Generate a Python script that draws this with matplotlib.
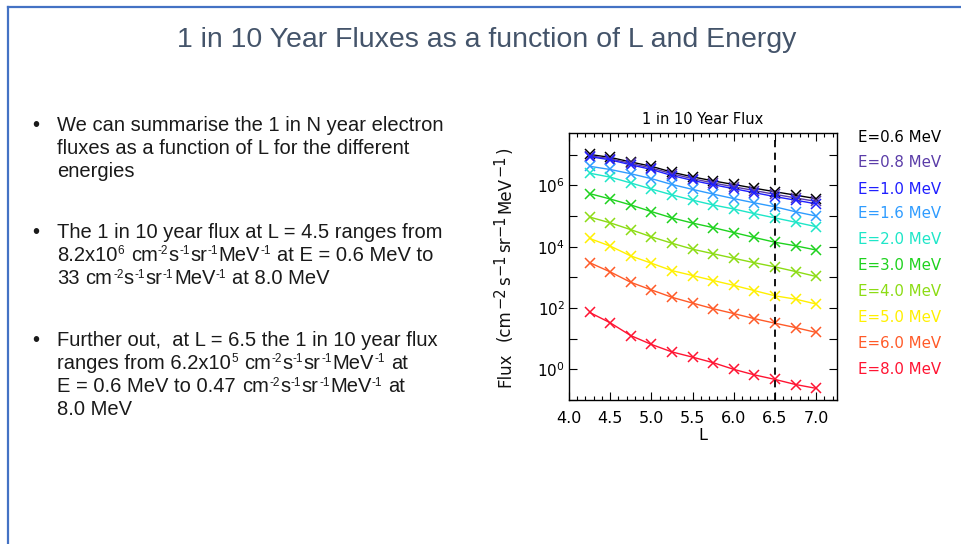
import numpy as np
import matplotlib.pyplot as plt
from matplotlib.lines import Line2D
from matplotlib.ticker import FixedLocator, FuncFormatter

# ---- data ----
L_vals = [4.25, 4.5, 4.75, 5.0, 5.25, 5.5, 5.75, 6.0, 6.25, 6.5, 6.75, 7.0]

flux_e06 = [1.02e7, 8.2e6, 5.8e6, 4.2e6, 2.7e6, 1.9e6, 1.4e6, 1.07e6, 8.1e5, 6.2e5, 4.8e5, 3.7e5]
flux_e08 = [9.3e6, 7.4e6, 5.2e6, 3.7e6, 2.4e6, 1.65e6, 1.2e6, 9.0e5, 6.8e5, 5.1e5, 3.9e5, 3.0e5]
flux_e10 = [8.7e6, 6.8e6, 4.7e6, 3.3e6, 2.1e6, 1.45e6, 1.05e6, 7.8e5, 5.8e5, 4.3e5, 3.3e5, 2.5e5]
flux_e16 = [4.2e6, 3.3e6, 2.4e6, 1.66e6, 1.07e6, 7.4e5, 5.2e5, 3.7e5, 2.7e5, 2.0e5, 1.38e5, 1.0e5]
flux_e20 = [2.5e6, 1.86e6, 1.2e6, 7.6e5, 4.9e5, 3.3e5, 2.3e5, 1.7e5, 1.2e5, 8.7e4, 6.3e4, 4.5e4]
flux_e30 = [5.4e5, 3.6e5, 2.3e5, 1.4e5, 8.7e4, 5.9e4, 4.2e4, 2.9e4, 2.0e4, 1.4e4, 1.07e4, 7.8e3]
flux_e40 = [9.3e4, 6.0e4, 3.6e4, 2.1e4, 1.3e4, 8.3e3, 5.9e3, 4.2e3, 3.0e3, 2.2e3, 1.55e3, 1.07e3]
flux_e50 = [1.86e4, 1.05e4, 5.0e3, 2.9e3, 1.66e3, 1.15e3, 790, 550, 370, 250, 195, 135]
flux_e60 = [3020, 1510, 690, 390, 224, 145, 95, 66, 45, 32, 23, 16]
flux_e80 = [72, 33, 12.6, 6.5, 3.7, 2.5, 1.65, 1.0, 0.66, 0.47, 0.32, 0.24]

energies = ['0.6', '0.8', '1.0', '1.6', '2.0', '3.0', '4.0', '5.0', '6.0', '8.0']
series = [flux_e06, flux_e08, flux_e10, flux_e16, flux_e20,
          flux_e30, flux_e40, flux_e50, flux_e60, flux_e80]
colors = ['#000000', '#5a3ca8', '#1f1fff', '#2f9cff', '#1ee6c8',
          '#1ed21e', '#8cdc14', '#fff000', '#ff5a28', '#ff1432']

W, H = 961, 544
fig = plt.figure(figsize=(W / 100, H / 100), dpi=100)
renderer = fig.canvas.get_renderer()


def rich(x0, y0, segs, size, sup_size, rise, rot=0, **kw):
    """Draw a run of text pieces; '^' marks a superscript piece, ' ' a gap.
    x0, y0 are pixel positions measured from the top-left corner."""
    x, y = x0, H - y0
    sp = fig.text(0, 0, 'a a', fontsize=size, **kw)
    sp2 = fig.text(0, 0, 'aa', fontsize=size, **kw)
    gap = sp.get_window_extent(renderer).width - sp2.get_window_extent(renderer).width
    sp.remove()
    sp2.remove()
    for s in segs:
        if s == ' ':
            if rot == 0:
                x += gap
            else:
                y += gap
            continue
        sup = s.startswith('^')
        txt = s[1:] if sup else s
        fs = sup_size if sup else size
        if rot == 0:
            px, py = x, y + (rise if sup else 0)
        else:
            px, py = x - (rise if sup else 0), y
        t = fig.text(px / W, py / H, txt, fontsize=fs, rotation=rot, ha='left',
                     va='baseline', rotation_mode='anchor', **kw)
        bb = t.get_window_extent(renderer)
        if rot == 0:
            x += bb.width + 0.5
        else:
            y += bb.height + 1.2


# ---- slide frame ----
frame = '#4472C4'
fig.add_artist(Line2D([8 / W, 1.0], [1 - 7 / H, 1 - 7 / H], color=frame, lw=1.6,
                      transform=fig.transFigure))
fig.add_artist(Line2D([8 / W, 8 / W], [1 - 7 / H, 0.0], color=frame, lw=1.6,
                      transform=fig.transFigure))

# ---- slide title ----
fig.text(487 / W, 1 - 47 / H, '1 in 10 Year Fluxes as a function of L and Energy',
         ha='center', va='baseline', fontsize=20.5, color='#44546A', family='Liberation Sans')

# ---- bullet text ----
slide_kw = dict(color='#1a1a1a', family='Liberation Sans')
unit = ['cm', '^-2', 's', '^-1', 'sr', '^-1', 'MeV', '^-1']
bullets = [
    [(131, ['We can summarise the 1 in N year electron']),
     (154, ['fluxes as a function of L for the different']),
     (177, ['energies'])],
    [(238, ['The 1 in 10 year flux at L = 4.5 ranges from']),
     (261, ['8.2x10', '^6', ' '] + unit + [' ', 'at E = 0.6 MeV to']),
     (284, ['33', ' '] + unit + [' ', 'at 8.0 MeV'])],
    [(346, ['Further out,  at L = 6.5 the 1 in 10 year flux']),
     (369, ['ranges from 6.2x10', '^5', ' '] + unit + [' ', 'at']),
     (392, ['E = 0.6 MeV to 0.47', ' '] + unit + [' ', 'at']),
     (415, ['8.0 MeV'])],
]
for lines in bullets:
    fig.text(32 / W, 1 - lines[0][0] / H, '\u2022', ha='left', va='baseline',
             fontsize=14.5, **slide_kw)
    for yy, segs in lines:
        rich(57, yy, segs, 14.5, 8.5, 6.5, **slide_kw)

# ---- the chart ----
ax = fig.add_axes([569 / W, 1 - 400 / H, (836.7 - 569) / W, (400 - 133.3) / H])
for vals, c in zip(series, colors):
    ax.plot(L_vals, vals, color=c, lw=1.0, marker='x', markersize=6.5, mew=1.1)

ax.axvline(6.5, color='black', lw=1.3, ls=(0, (4, 3)))

ax.set_yscale('log')
ax.set_xlim(4.0, 7.25)
ax.set_ylim(0.1, 5e7)

ax.xaxis.set_major_locator(FixedLocator([4.0, 4.5, 5.0, 5.5, 6.0, 6.5, 7.0]))
ax.xaxis.set_minor_locator(FixedLocator(np.arange(4.0, 7.26, 0.1)))
ax.xaxis.set_major_formatter(FuncFormatter(lambda v, p: f'{v:.1f}'))
ax.yaxis.set_major_locator(FixedLocator([1e-1, 1, 10, 1e2, 1e3, 1e4, 1e5, 1e6, 1e7]))
ax.yaxis.set_minor_locator(FixedLocator([]))


def ylab(v, p):
    e = int(round(np.log10(v)))
    if e in (0, 2, 4, 6):
        return r'$10^{%d}$' % e
    return ''


ax.yaxis.set_major_formatter(FuncFormatter(ylab))
ax.tick_params(which='both', direction='in', top=True, right=True, width=0.8)
ax.tick_params(which='major', length=6)
ax.tick_params(which='minor', length=3)
ax.tick_params(axis='x', pad=8, labelsize=11.5)
ax.tick_params(axis='y', pad=3, labelsize=11)
for spn in ax.spines.values():
    spn.set_linewidth(1.0)

ax.set_title('1 in 10 Year Flux', fontsize=10.5, pad=7)
ax.set_xlabel('L', fontsize=11.5, labelpad=1)

# y label drawn piece by piece so the superscripts keep the IDL look
rich(510, 387, ['Flux', ' ', ' ', '(cm', '^\u22122', 's', '^\u22121', 'sr', '^\u22121',
                'MeV', '^\u22121', ')'], 12, 10.5, 5.5, rot=90, color='#111111')

# legend text to the right of the chart
leg_y = [137, 163, 189, 214, 240, 266, 292, 318, 343, 369]
for e, c, yy in zip(energies, colors, leg_y):
    fig.text(858 / W, 1 - yy / H, f'E={e} MeV', ha='left', va='center', fontsize=10.8, color=c)

fig.savefig('out.png', dpi=100)
